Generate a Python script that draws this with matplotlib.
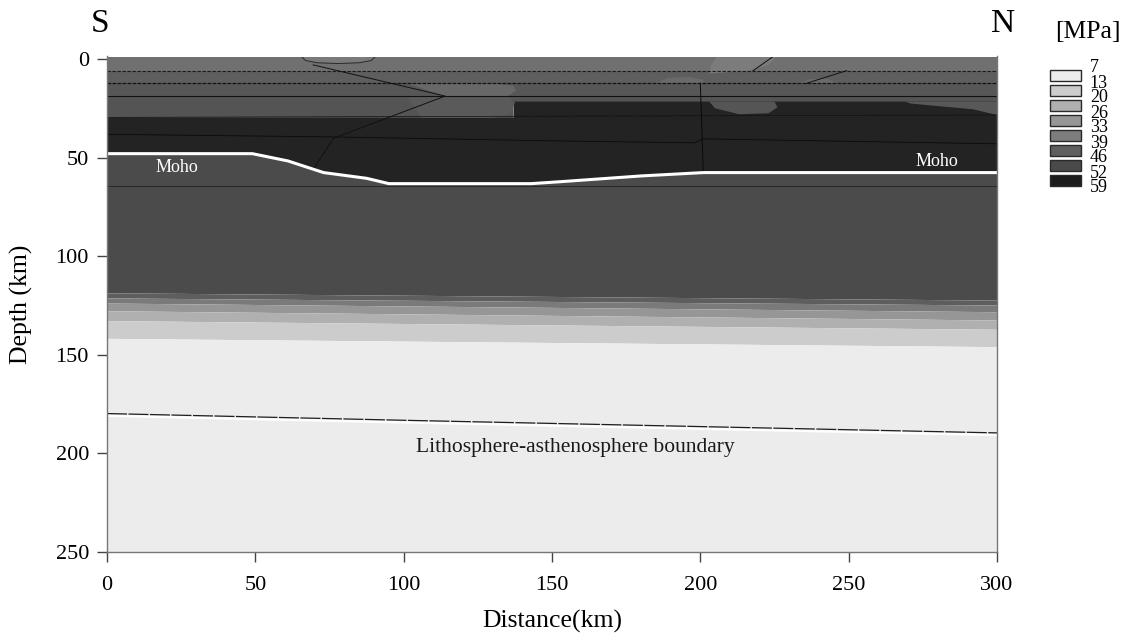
import matplotlib
matplotlib.use("Agg")
import matplotlib.pyplot as plt
import matplotlib.transforms as mtransforms

plt.rcParams['font.family'] = ['Liberation Serif', 'DejaVu Serif']

# ---- data (distance km, depth km) ----
edge_x = [0, 300]
layer6_d = [6.0, 6.0]
layer12_d = [12.3, 12.3]
layer19_d = [18.8, 18.8]
black_top_x = [0, 137, 137, 300]
black_top_d = [29.8, 29.8, 21.6, 21.6]
moho_x = [0, 49, 61, 73, 87.5, 95, 143, 153, 180, 201, 300]
moho_d = [48.0, 48.0, 51.7, 57.6, 60.5, 63.2, 63.2, 62.2, 59.3, 57.6, 57.6]
mantle_line_d = [64.2, 64.2]
trans_d = [[118.8, 122.5], [121.4, 125.0], [124.0, 128.4],
           [127.9, 132.6], [132.9, 137.3], [141.9, 146.1]]
lab_x = [0, 100, 200, 300]
lab_d = [179.8, 183.2, 186.4, 189.6]
top_d = [-2, -2]
bottom_d = [250, 250]

# small bodies inside the crust
dome_x = [65, 67, 71, 78, 85, 89, 91]
dome_d = [-2, 0.8, 1.9, 2.3, 1.9, 0.8, -2]
blob_a_x = [101, 130, 137, 138, 135, 114]
blob_a_d = [12.3, 12.3, 13.5, 16, 18.8, 18.8]
blob_a2_x = [101, 135, 137.5, 136, 130, 106]
blob_a2_d = [18.8, 18.8, 22, 28, 29.8, 29.8]
blob_b_x = [203, 225, 226, 223, 213, 205]
blob_b_d = [21.6, 21.6, 24.5, 27.5, 28, 25]
blob_c_x = [269, 300, 300, 292, 281, 271]
blob_c_d = [21.6, 21.6, 28.4, 25.5, 24, 22.6]
blob_d_x = [206, 226, 223, 216, 203, 203.5]
blob_d_d = [-2, -2, 3, 6.0, 7.3, 3.5]
blob_e_x = [185, 189, 196, 201, 201]
blob_e_d = [12.3, 9.6, 9.0, 10.5, 12.3]
blob_f_x = [233, 237, 243, 246]
blob_f_d = [12.3, 10.2, 10.0, 12.3]

# faults / thin boundaries
fault1_x = [69.5, 114, 76.3, 69.5]
fault1_d = [3.0, 18.8, 40.2, 56.0]
fault2_x = [217.8, 224.6]
fault2_d = [5.9, -1.3]
fault3_x = [235.8, 249.3]
fault3_d = [12.3, 5.9]
vert_x = [200, 200.5, 201]
vert_d = [12.3, 35, 57.6]
line29_d = [29.6, 28.4]
line40_x = [0, 76, 150, 198, 201, 300]
line40_d = [38.2, 39.5, 41.5, 42.5, 40.5, 43]

# legend
levels = ['7', '13', '20', '26', '33', '39', '46', '52', '59']
level_colors = ['#ececec', '#cccccc', '#b0b0b0', '#979797', '#7d7d7d',
                '#5f5f5f', '#4a4a4a', '#1c1c1c']

# band colours (top -> bottom)
crust_colors = ['#707070', '#5e5e5e', '#575757', '#545454']
black_color = '#232323'
mantle_color = '#4b4b4b'
trans_colors = ['#5e5e5e', '#7a7a7a', '#969696', '#b0b0b0', '#cccccc']
astheno_color = '#ececec'


def band(ax, x_top, d_top, x_bot, d_bot, color):
    xs = list(x_top) + list(x_bot)[::-1]
    ds = list(d_top) + list(d_bot)[::-1]
    ax.fill(xs, ds, color=color, lw=0)


fig = plt.figure(figsize=(11.34, 6.37), dpi=100)
W, H = 1134, 637
ax = fig.add_axes([107 / W, 1 - 552 / H, 890 / W, 495.5 / H])

# crust layers
band(ax, edge_x, top_d, edge_x, layer6_d, crust_colors[0])
band(ax, edge_x, layer6_d, edge_x, layer12_d, crust_colors[1])
band(ax, edge_x, layer12_d, edge_x, layer19_d, crust_colors[2])
band(ax, edge_x, layer19_d, black_top_x, black_top_d, crust_colors[3])
band(ax, black_top_x, black_top_d, moho_x, moho_d, black_color)
band(ax, moho_x, moho_d, edge_x, trans_d[0], mantle_color)
for i in range(5):
    band(ax, edge_x, trans_d[i], edge_x, trans_d[i + 1], trans_colors[i])
band(ax, edge_x, trans_d[-1], edge_x, bottom_d, astheno_color)

# bodies
ax.fill(dome_x, dome_d, facecolor='#7a7a7a', edgecolor='#2a2a2a', lw=0.7)
ax.fill(blob_a_x, blob_a_d, color='#686868', lw=0)
ax.fill(blob_a2_x, blob_a2_d, color='#5a5a5a', lw=0)
ax.fill(blob_b_x, blob_b_d, color='#555555', lw=0)
ax.fill(blob_c_x, blob_c_d, color='#585858', lw=0)
ax.fill(blob_d_x, blob_d_d, color='#7c7c7c', lw=0)
ax.fill(blob_e_x, blob_e_d, color='#6a6a6a', lw=0)
ax.fill(blob_f_x, blob_f_d, color='#6a6a6a', lw=0)

# thin lines
ax.plot(edge_x, layer6_d, color='#1a1a1a', lw=0.8, ls=(0, (3, 1.5)))
ax.plot(edge_x, layer12_d, color='#111111', lw=0.9, ls=(0, (3, 1)))
ax.plot(edge_x, layer19_d, color='#111111', lw=0.8)
ax.plot(edge_x, line29_d, color='#111111', lw=0.5)
ax.plot(line40_x, line40_d, color='#0a0a0a', lw=0.6)
ax.plot(edge_x, mantle_line_d, color='#262626', lw=0.7)
ax.plot(fault1_x, fault1_d, color='#111111', lw=0.7)
ax.plot(fault2_x, fault2_d, color='#111111', lw=0.7)
ax.plot(fault3_x, fault3_d, color='#111111', lw=0.7)
ax.plot(vert_x, vert_d, color='#0a0a0a', lw=0.7)

# Moho and LAB
ax.plot(moho_x, moho_d, color='white', lw=2.2, solid_capstyle='butt')
shift = mtransforms.offset_copy(ax.transData, fig=fig, x=0, y=-1.6, units='points')
ax.plot(lab_x, lab_d, color='white', lw=1.6, transform=shift)
ax.plot(lab_x, lab_d, color='#1e1e1e', lw=0.9, ls=(0, (16, 1.2)))

ax.text(23.7, 54.9, 'Moho', color='white', fontsize=13, ha='center', va='center')
ax.text(279.6, 52.0, 'Moho', color='white', fontsize=13, ha='center', va='center')
ax.text(158.0, 197.0, 'Lithosphere-asthenosphere boundary', color='#1a1a1a',
        fontsize=15.5, ha='center', va='center')

ax.set_xlim(0, 300)
ax.set_ylim(250, -1.27)
ax.set_xticks([0, 50, 100, 150, 200, 250, 300])
ax.set_yticks([0, 50, 100, 150, 200, 250])
ax.tick_params(direction='out', length=7, width=1, color='#444444',
               labelsize=16, pad=6)
ax.tick_params(axis='x', pad=10)
for side in ['left', 'bottom', 'right']:
    ax.spines[side].set_color('#777777')
    ax.spines[side].set_linewidth(1.0)
ax.spines['top'].set_visible(False)

ax.set_xlabel('Distance(km)', fontsize=18.5)
ax.set_ylabel('Depth (km)', fontsize=18.5)
ax.xaxis.set_label_coords(0.5, -0.117)
ax.yaxis.set_label_coords(-0.083, 0.5)

fig.text(100 / W, 1 - 24 / H, 'S', fontsize=24, ha='center', va='center')
fig.text(1003 / W, 1 - 24 / H, 'N', fontsize=24, ha='center', va='center')
fig.text(1088 / W, 1 - 32 / H, '[MPa]', fontsize=18.5, ha='center', va='center')

# stepped legend
lax = fig.add_axes([1040 / W, 1 - 195.5 / H, 94 / W, 135 / H])
lax.set_xlim(0, 1)
lax.set_ylim(8.5, -0.5)
lax.axis('off')
for i, c in enumerate(level_colors):
    lax.barh(i + 0.5, 0.33, left=0.106, height=0.78, color=c,
             edgecolor='#2a2a2a', lw=1.0)
for i, lab in enumerate(levels):
    lax.text(0.53, i, lab, fontsize=13, ha='left', va='center')

fig.savefig('out.png', dpi=100)
